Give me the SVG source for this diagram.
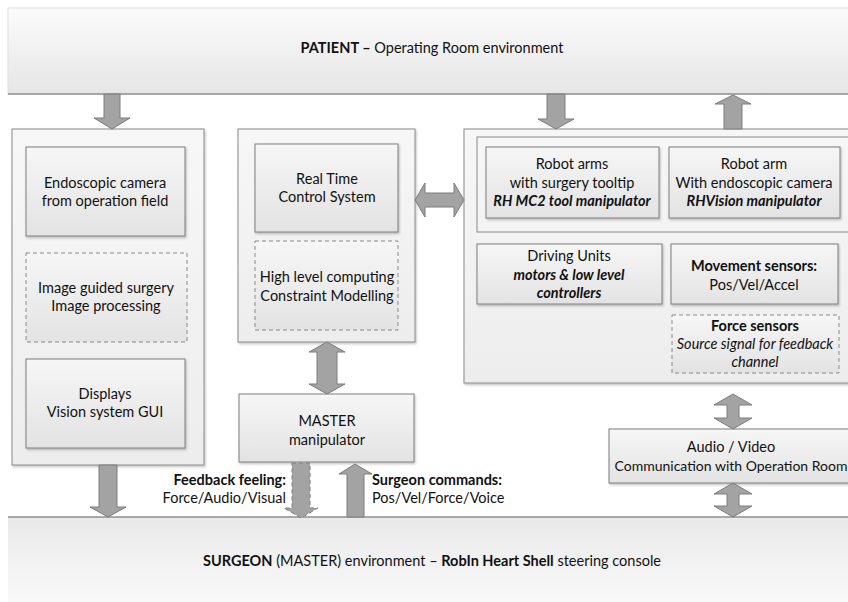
<svg xmlns="http://www.w3.org/2000/svg" width="848" height="602" viewBox="0 0 848 602">
<defs>
<linearGradient id="gTop" x1="0" y1="0" x2="0" y2="1"><stop offset="0" stop-color="#fbfbfb"/><stop offset="1" stop-color="#e6e6e6"/></linearGradient>
<linearGradient id="gBot" x1="0" y1="0" x2="0" y2="1"><stop offset="0" stop-color="#e9e9e9"/><stop offset="1" stop-color="#fafafa"/></linearGradient>
<linearGradient id="gPanel" x1="0" y1="0" x2="0" y2="1"><stop offset="0" stop-color="#f7f7f7"/><stop offset="1" stop-color="#ededed"/></linearGradient>
<linearGradient id="gBox" x1="0" y1="0" x2="0" y2="1"><stop offset="0" stop-color="#f6f6f6"/><stop offset="1" stop-color="#e3e3e3"/></linearGradient>
<filter id="sh" x="-5%" y="-5%" width="115%" height="115%"><feDropShadow dx="1" dy="1.5" stdDeviation="1" flood-color="#000" flood-opacity="0.25"/></filter>
</defs>
<style>
text{font-family:Lato,"Open Sans","Liberation Sans",sans-serif;font-size:14.5px;fill:#111111;text-anchor:middle}
.b{font-weight:bold}
.bi{font-weight:bold;font-style:italic}
.i{font-style:italic}
.panel{fill:url(#gPanel);stroke:#8a8a8a;stroke-width:1;filter:url(#sh)}
.box{fill:url(#gBox);stroke:#7f7f7f;stroke-width:1;filter:url(#sh)}
.dash{fill:url(#gBox);stroke:#8a8a8a;stroke-width:1;stroke-dasharray:4 3}
.arr{fill:#a3a3a3;stroke:#7c7c7c;stroke-width:1}
.arrd{fill:#a3a3a3;stroke:#7c7c7c;stroke-width:1;stroke-dasharray:4 3}
</style>
<rect width="848" height="602" fill="#ffffff"/>

<g id="patient">
<rect x="8" y="8" width="850" height="86" fill="url(#gTop)" stroke="#e0e0e0"/>
<line x1="8" y1="94" x2="848" y2="94" stroke="#8f8f8f" stroke-width="1.5"/>
<text x="432" y="53"><tspan class="b">PATIENT –</tspan> Operating Room environment</text>
</g>

<g id="surgeon">
<rect x="8" y="517" width="850" height="90" fill="url(#gBot)"/>
<line x1="8" y1="517" x2="848" y2="517" stroke="#8f8f8f" stroke-width="1.5"/>
<text x="432" y="566"><tspan class="b">SURGEON</tspan> (MASTER) environment – <tspan class="b">RobIn Heart Shell</tspan> steering console</text>
</g>

<g id="vision-panel">
<rect class="panel" x="12" y="129" width="192" height="336"/>
</g>
<g id="endoscopic-camera">
<rect class="box" x="26" y="147" width="159" height="89"/>
<text x="105" y="188">Endoscopic camera</text>
<text x="105" y="206">from operation field</text>
</g>
<g id="image-guided">
<rect class="dash" x="26" y="253" width="161" height="89"/>
<text x="106" y="293">Image guided surgery</text>
<text x="106" y="311">Image processing</text>
</g>
<g id="displays">
<rect class="box" x="26" y="359" width="159" height="89"/>
<text x="105" y="399">Displays</text>
<text x="105" y="417">Vision system GUI</text>
</g>

<g id="control-panel">
<rect class="panel" x="238" y="129" width="177" height="213"/>
</g>
<g id="real-time">
<rect class="box" x="255" y="144" width="143" height="88"/>
<text x="327" y="184">Real Time</text>
<text x="327" y="202">Control System</text>
</g>
<g id="high-level">
<rect class="dash" x="255" y="241" width="143" height="89"/>
<text x="327" y="282">High level computing</text>
<text x="327" y="301">Constraint Modelling</text>
</g>

<g id="master">
<rect class="box" x="239" y="394" width="175" height="68"/>
<text x="327" y="426">MASTER</text>
<text x="327" y="445">manipulator</text>
</g>

<g id="robot-panel">
<rect class="panel" x="464" y="129" width="400" height="254"/>
<rect x="477" y="137" width="380" height="95" fill="none" stroke="#8a8a8a" stroke-width="1"/>
</g>
<g id="robot-arms">
<rect class="box" x="486" y="147" width="173" height="71"/>
<text x="572" y="169">Robot arms</text>
<text x="572" y="188">with surgery tooltip</text>
<text x="572" y="206" class="bi">RH MC2 tool manipulator</text>
</g>
<g id="robot-arm-camera">
<rect class="box" x="669" y="147" width="171" height="71"/>
<text x="754" y="169">Robot arm</text>
<text x="754" y="188">With endoscopic camera</text>
<text x="754" y="206" class="bi">RHVision manipulator</text>
</g>
<g id="driving-units">
<rect class="box" x="477" y="244" width="185" height="60"/>
<text x="569" y="261">Driving Units</text>
<text x="569" y="280" class="bi">motors &amp; low level</text>
<text x="569" y="298" class="bi">controllers</text>
</g>
<g id="movement-sensors">
<rect class="box" x="671" y="244" width="167" height="60"/>
<text x="754" y="271" class="b">Movement sensors:</text>
<text x="754" y="290">Pos/Vel/Accel</text>
</g>
<g id="force-sensors">
<rect class="dash" x="672" y="315" width="167" height="58"/>
<text x="755" y="331" class="b">Force sensors</text>
<text x="755" y="349" class="i">Source signal for feedback</text>
<text x="755" y="367" class="i">channel</text>
</g>

<g id="audio-video">
<rect class="box" x="609" y="429" width="250" height="54"/>
<text x="731" y="452">Audio / Video</text>
<text x="731" y="471" style="font-size:14px">Communication with Operation Room</text>
</g>

<g id="connectors">
<path class="arr" d="M104,94 H120 V118 H130 L112,129 L94,118 H104 Z"/>
<path class="arr" d="M547,94 H565 V119 H574 L556,129 L538,119 H547 Z"/>
<path class="arr" d="M724,129 V104 H715 L733,95 L751,104 H742 V129 Z"/>
<path class="arr" d="M415,200 L425,183 V193 H454 V183 L464,200 L454,217 V207 H425 V217 Z"/>
<path class="arr" d="M327,342 L345,352 H337 V384 H345 L327,394 L309,384 H317 V352 H309 Z"/>
<path class="arr" d="M733,394 L752,405 H739 V418 H752 L733,429 L714,418 H727 V405 H714 Z"/>
<path class="arr" d="M733,483 L752,494 H739 V506 H752 L733,517 L714,506 H727 V494 H714 Z"/>
<path class="arr" d="M99,465 H117 V507 H126 L108,517 L90,507 H99 Z"/>
<path class="arrd" d="M292,463 H310 V508 H318 L301,518 L284,508 H292 Z"/>
<path class="arr" d="M347,517 V474 H339 L355,464 L372,474 H364 V517 Z"/>
</g>

<g id="labels">
<text x="286" y="485" style="text-anchor:end" class="b">Feedback feeling:</text>
<text x="286" y="503" style="text-anchor:end">Force/Audio/Visual</text>
<text x="372" y="485" style="text-anchor:start" class="b">Surgeon commands:</text>
<text x="372" y="503" style="text-anchor:start">Pos/Vel/Force/Voice</text>
</g>
</svg>
